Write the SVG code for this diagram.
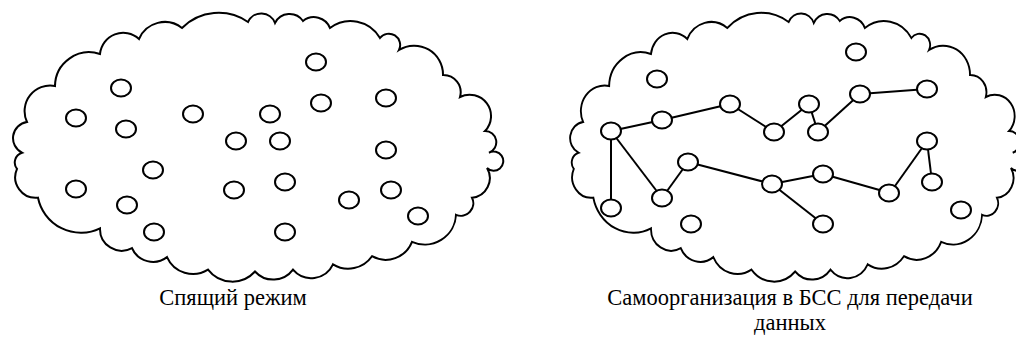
<svg xmlns="http://www.w3.org/2000/svg" xmlns:xlink="http://www.w3.org/1999/xlink" width="1016" height="361" viewBox="0 0 1016 361">
<style>
.cloud{fill:none;stroke:#000;stroke-width:2;vector-effect:non-scaling-stroke}
.n{fill:#fff;stroke:#000;stroke-width:2}
.e{stroke:#000;stroke-width:2;fill:none}
.t{font-family:"Liberation Serif","Times New Roman",serif;font-size:22.5px;fill:#000;text-anchor:middle}
</style>
<defs>
<path id="cloudpath" d="M27,122 A25.6,25.6 0 0 1 55,86 A34.2,34.2 0 0 1 100,54 A23.3,23.3 0 0 1 139,39 A27.9,27.9 0 0 1 182,28 A51.8,51.8 0 0 1 248,22 A14.6,14.6 0 0 1 275,23 A16.3,16.3 0 0 1 303,21 A17.4,17.4 0 0 1 330,28 A34,34 0 0 1 380,38 A11.3,11.3 0 0 1 399,50 A28.8,28.8 0 0 1 443,75 A17.3,17.3 0 0 1 460,97 A21.4,21.4 0 0 1 485,131 A11.2,11.2 0 0 1 489,152.7 A9.6,9.6 0 1 1 487,168 A19.7,19.7 0 0 1 472,197.7 A12.5,12.5 0 0 1 456,214.8 A31.2,31.2 0 0 1 412,241.8 A28.2,28.2 0 0 1 372,256.2 A29,29 0 0 1 333,264.3 A24,24 0 0 1 293,269.7 A24.6,24.6 0 0 1 255,271.5 A30.6,30.6 0 0 1 208,269.7 A28.4,28.4 0 0 1 167,257.1 A22.9,22.9 0 0 1 132,248.1 A21.7,21.7 0 0 1 100,228.3 A43.7,43.7 0 0 1 38,197.7 A20.6,20.6 0 0 1 17,168.9 A10.3,10.3 0 0 1 22,152.7 A16.3,16.3 0 0 1 27,122 Z"/>
</defs>
<g id="cloud-left"><use href="#cloudpath" xlink:href="#cloudpath" class="cloud"/></g>
<g id="cloud-right"><use href="#cloudpath" xlink:href="#cloudpath" class="cloud" transform="matrix(0.93 0 0 1 558 0)"/></g>
<g id="connectors">
<line class="e" x1="611" y1="131" x2="662" y2="120"/>
<line class="e" x1="662" y1="120" x2="730" y2="104"/>
<line class="e" x1="730" y1="104" x2="774" y2="132"/>
<line class="e" x1="774" y1="132" x2="809" y2="104"/>
<line class="e" x1="809" y1="104" x2="818" y2="132"/>
<line class="e" x1="818" y1="132" x2="860" y2="94"/>
<line class="e" x1="860" y1="94" x2="927" y2="89"/>
<line class="e" x1="611" y1="131" x2="611" y2="208"/>
<line class="e" x1="611" y1="131" x2="662" y2="198"/>
<line class="e" x1="662" y1="198" x2="688" y2="162"/>
<line class="e" x1="688" y1="162" x2="772" y2="184"/>
<line class="e" x1="772" y1="184" x2="823" y2="174"/>
<line class="e" x1="823" y1="174" x2="890" y2="193"/>
<line class="e" x1="890" y1="193" x2="927" y2="141"/>
<line class="e" x1="927" y1="141" x2="932" y2="182"/>
<line class="e" x1="772" y1="184" x2="823" y2="224"/>
</g>
<g id="left-nodes">
<g id="L1"><ellipse class="n" cx="316" cy="62" rx="10" ry="8.5"/></g>
<g id="L2"><ellipse class="n" cx="121" cy="88" rx="10" ry="8.5"/></g>
<g id="L3"><ellipse class="n" cx="76" cy="118" rx="10" ry="8.5"/></g>
<g id="L4"><ellipse class="n" cx="193" cy="114" rx="10" ry="8.5"/></g>
<g id="L5"><ellipse class="n" cx="270" cy="114" rx="10" ry="8.5"/></g>
<g id="L6"><ellipse class="n" cx="321" cy="103" rx="10" ry="8.5"/></g>
<g id="L7"><ellipse class="n" cx="386" cy="98" rx="10" ry="8.5"/></g>
<g id="L8"><ellipse class="n" cx="126" cy="129" rx="10" ry="8.5"/></g>
<g id="L9"><ellipse class="n" cx="236" cy="141" rx="10" ry="8.5"/></g>
<g id="L10"><ellipse class="n" cx="280" cy="141" rx="10" ry="8.5"/></g>
<g id="L11"><ellipse class="n" cx="386" cy="150" rx="10" ry="8.5"/></g>
<g id="L12"><ellipse class="n" cx="153" cy="170" rx="10" ry="8.5"/></g>
<g id="L13"><ellipse class="n" cx="285" cy="182" rx="10" ry="8.5"/></g>
<g id="L14"><ellipse class="n" cx="76" cy="189" rx="10" ry="8.5"/></g>
<g id="L15"><ellipse class="n" cx="234" cy="190" rx="10" ry="8.5"/></g>
<g id="L16"><ellipse class="n" cx="391" cy="190" rx="10" ry="8.5"/></g>
<g id="L17"><ellipse class="n" cx="127" cy="205" rx="10" ry="8.5"/></g>
<g id="L18"><ellipse class="n" cx="349" cy="200" rx="10" ry="8.5"/></g>
<g id="L19"><ellipse class="n" cx="418" cy="216" rx="10" ry="8.5"/></g>
<g id="L20"><ellipse class="n" cx="154" cy="232" rx="10" ry="8.5"/></g>
<g id="L21"><ellipse class="n" cx="285" cy="232" rx="10" ry="8.5"/></g>
</g>
<g id="right-nodes">
<g id="R1"><ellipse class="n" cx="657" cy="79" rx="10" ry="8.5"/></g>
<g id="R2"><ellipse class="n" cx="611" cy="131" rx="10" ry="8.5"/></g>
<g id="R3"><ellipse class="n" cx="662" cy="120" rx="10" ry="8.5"/></g>
<g id="R4"><ellipse class="n" cx="730" cy="104" rx="10" ry="8.5"/></g>
<g id="R5"><ellipse class="n" cx="774" cy="132" rx="10" ry="8.5"/></g>
<g id="R6"><ellipse class="n" cx="809" cy="104" rx="10" ry="8.5"/></g>
<g id="R7"><ellipse class="n" cx="818" cy="132" rx="10" ry="8.5"/></g>
<g id="R8"><ellipse class="n" cx="860" cy="94" rx="10" ry="8.5"/></g>
<g id="R9"><ellipse class="n" cx="927" cy="89" rx="10" ry="8.5"/></g>
<g id="R10"><ellipse class="n" cx="856" cy="52" rx="10" ry="8.5"/></g>
<g id="R11"><ellipse class="n" cx="688" cy="162" rx="10" ry="8.5"/></g>
<g id="R12"><ellipse class="n" cx="611" cy="208" rx="10" ry="8.5"/></g>
<g id="R13"><ellipse class="n" cx="662" cy="198" rx="10" ry="8.5"/></g>
<g id="R14"><ellipse class="n" cx="691" cy="224" rx="10" ry="8.5"/></g>
<g id="R15"><ellipse class="n" cx="772" cy="184" rx="10" ry="8.5"/></g>
<g id="R16"><ellipse class="n" cx="823" cy="174" rx="10" ry="8.5"/></g>
<g id="R17"><ellipse class="n" cx="823" cy="224" rx="10" ry="8.5"/></g>
<g id="R18"><ellipse class="n" cx="889" cy="193" rx="10" ry="8.5"/></g>
<g id="R19"><ellipse class="n" cx="927" cy="141" rx="10" ry="8.5"/></g>
<g id="R20"><ellipse class="n" cx="932" cy="182" rx="10" ry="8.5"/></g>
<g id="R21"><ellipse class="n" cx="961" cy="210" rx="10" ry="8.5"/></g>
</g>
<g id="labels">
<text class="t" x="233" y="305">Спящий режим</text>
<text class="t" x="790" y="305">Самоорганизация в БСС для передачи</text>
<text class="t" x="790" y="330">данных</text>
</g>
</svg>
